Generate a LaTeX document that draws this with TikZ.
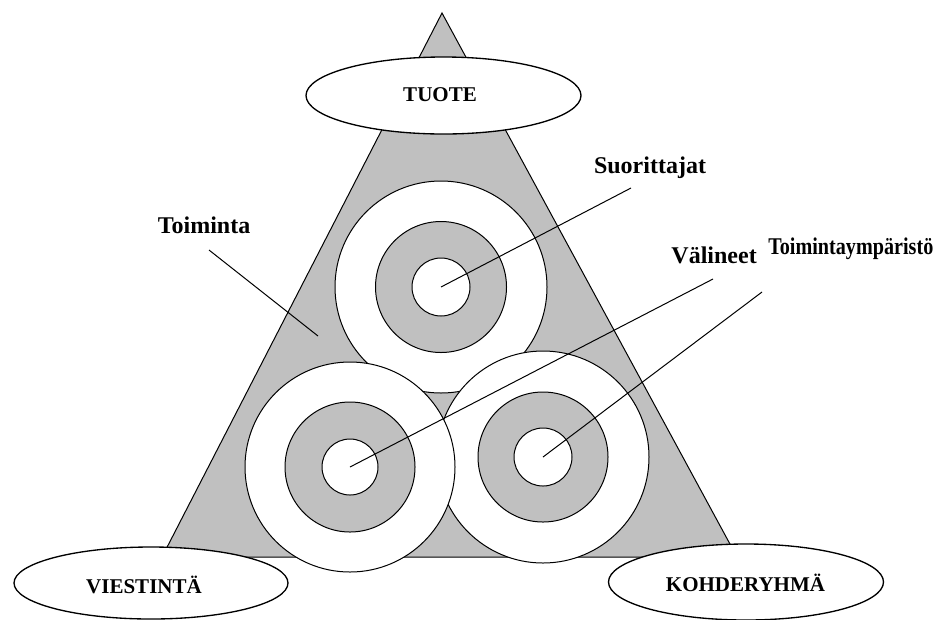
\documentclass[tikz,border=0pt]{standalone}
\usepackage{fontspec}
\setmainfont{Liberation Serif}
\usetikzlibrary{shapes.geometric}
\definecolor{silver}{RGB}{192,192,192}
\begin{document}
\begin{tikzpicture}[x=0.75pt,y=-0.75pt,
  outline/.style={draw=black, line width=0.75pt},
  ring/.style={outline, fill=silver},
  hole/.style={outline, fill=white},
  oval/.style={draw=black, line width=1pt, fill=white},
  lbl/.style={font=\bfseries\fontsize{18}{20}\selectfont, inner sep=0pt},
  captext/.style={font=\bfseries\fontsize{15.75}{18}\selectfont, inner sep=0pt},
  leader/.style={draw=black, line width=0.75pt}]
\useasboundingbox (0,0) rectangle (941,619);
\fill[white] (0,0) rectangle (941,619);
% triangle
\coordinate (apex) at (442,13);
\coordinate (bl) at (162,557);
\coordinate (br) at (737,557);
\draw[ring] (apex) -- (br) -- (bl) -- cycle;
% top group
\coordinate (ctop) at (441,287);
\draw[hole] (ctop) circle[radius=106];
\draw[ring] (ctop) circle[radius=65.5];
\draw[hole] (ctop) circle[radius=29];
% right group
\coordinate (cright) at (543,457);
\draw[hole] (cright) circle[radius=106];
\draw[ring] (cright) circle[radius=65];
\draw[hole] (cright) circle[radius=29];
% left group
\coordinate (cleft) at (350,467);
\draw[hole] (cleft) circle[radius=105];
\draw[ring] (cleft) circle[radius=65];
\draw[hole] (cleft) circle[radius=28];
% ellipses
\draw[oval] (443.5,95.5) ellipse[x radius=137.5, y radius=38.5];
\draw[oval] (151,583) ellipse[x radius=137, y radius=36];
\draw[oval] (746,582) ellipse[x radius=137.5, y radius=38];
\node[captext] (tuote) at (440,95) {TUOTE};
\node[captext] (viest) at (144,585) {VIESTINTÄ};
\node[captext] (kohde) at (745.5,582.5) {KOHDERYHMÄ};
% labels
\node[lbl, anchor=base] (toim) at (204,233) {Toiminta};
\node[lbl, anchor=base] (suor) at (650,173) {Suorittajat};
\node[lbl, anchor=base east] (vali) at (757,263) {Välineet};
\node[lbl, anchor=base west] (ympa) at (768,254) {\scalebox{0.84}[1]{Toimintaympäristö}};
% leader lines
\coordinate (toimA) at (209,250);
\coordinate (toimB) at (318,336);
\coordinate (suorA) at (631,188);
\coordinate (valiA) at (713,279);
\coordinate (ympaA) at (762,292);
\draw[leader] (toimA) -- (toimB);
\draw[leader] (suorA) -- (ctop);
\draw[leader] (valiA) -- (cleft);
\draw[leader] (ympaA) -- (cright);
\end{tikzpicture}
\end{document}
